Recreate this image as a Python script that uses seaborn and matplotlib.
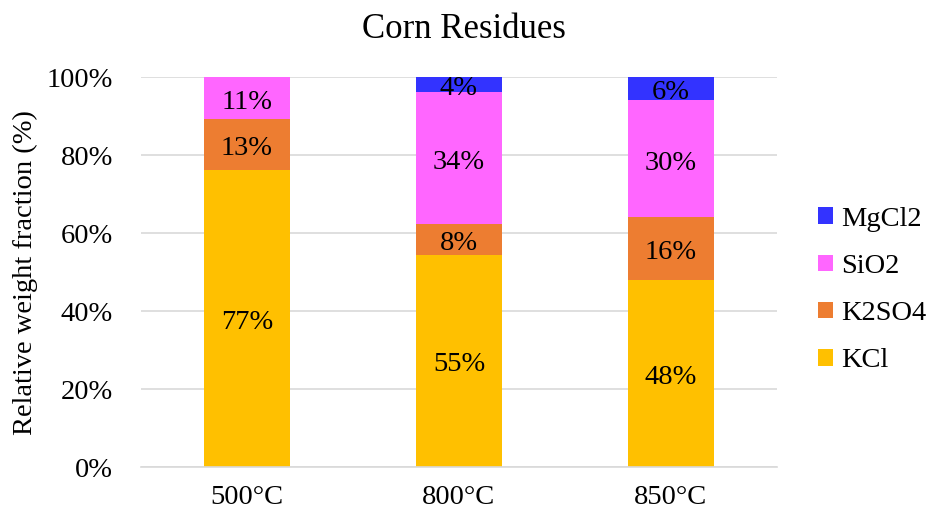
import numpy as np
import pandas as pd
import matplotlib
matplotlib.use("Agg")
import matplotlib.pyplot as plt
from matplotlib.patches import Patch
from matplotlib.ticker import FuncFormatter
import seaborn as sns

# Composition of corn-residue ash deposits by temperature (labelled percentages)
temperatures = ["500°C", "800°C", "850°C"]
components = ["KCl", "K2SO4", "SiO2", "MgCl2"]
kcl = [77, 55, 48]
k2so4 = [13, 8, 16]
sio2 = [11, 34, 30]
mgcl2 = [0, 4, 6]
colors = {"KCl": "#FFC000", "K2SO4": "#ED7D31", "SiO2": "#FF66FF", "MgCl2": "#3333FF"}

sns.set_style("white")
plt.rcParams["font.family"] = ["Liberation Serif", "DejaVu Serif"]
plt.rcParams["font.size"] = 20.5
plt.rcParams["text.color"] = "black"
plt.rcParams["xtick.color"] = "black"
plt.rcParams["ytick.color"] = "black"
plt.rcParams["xtick.labelcolor"] = "black"
plt.rcParams["ytick.labelcolor"] = "black"

values = np.array([kcl, k2so4, sio2, mgcl2], dtype=float)
# 100% stacked: each column normalised to its total
share = values / values.sum(axis=0) * 100
cum = np.cumsum(share, axis=0)

rows = []
for ci, comp in enumerate(components):
    for ti, t in enumerate(temperatures):
        rows.append({"temp": t, "component": comp, "raw": values[ci, ti],
                     "low": cum[ci, ti] - share[ci, ti], "top": cum[ci, ti]})
df = pd.DataFrame(rows)

fig = plt.figure(figsize=(9.33, 5.21), dpi=100)
ax = fig.add_axes([0.1511, 0.1036, 0.6817, 0.7486])

# Draw cumulative tops from the highest layer down so lower layers sit in front
for comp in components[::-1]:
    sub = df[df["component"] == comp]
    sns.barplot(data=sub, x="temp", y="top", order=temperatures, color=colors[comp],
                width=0.405, saturation=1, ax=ax, errorbar=None, linewidth=0)

for _, r in df.iterrows():
    if r["raw"] <= 0:
        continue
    xi = temperatures.index(r["temp"])
    ax.annotate(f"{int(r['raw'])}%", xy=(xi, (r["low"] + r["top"]) / 2),
                xytext=(0, -3), textcoords="offset points",
                ha="center", va="center", fontsize=20.5, color="black")

ax.set_xlim(-0.5, 2.5)
ax.set_ylim(0, 100)
ax.set_yticks(np.arange(0, 101, 20))
ax.yaxis.set_major_formatter(FuncFormatter(lambda v, _: f"{int(v)}%"))
ax.set_axisbelow(True)
ax.yaxis.grid(True, color="#D9D9D9", linewidth=1.2)
ax.xaxis.grid(False)
for s in ["top", "right", "left"]:
    ax.spines[s].set_visible(False)
ax.spines["bottom"].set_color("#D9D9D9")
ax.spines["bottom"].set_linewidth(1.2)
ax.tick_params(axis="y", length=0, pad=20)
ax.tick_params(axis="x", length=0, pad=13)
ax.set_xlabel("")
ax.set_ylabel("")

fig.text(25 / 933, 1 - 273 / 521, "Relative weight fraction (%)", rotation=90,
         ha="center", va="center", fontsize=20.5)
fig.text(464 / 933, 1 - 30 / 521, "Corn Residues", ha="center", va="center", fontsize=25)

handles = [Patch(facecolor=colors[c], edgecolor="none", label=c) for c in components[::-1]]
fig.legend(handles=handles, loc="center left", bbox_to_anchor=(818 / 933, 1 - 290 / 521),
           frameon=False, handlelength=0.52, handleheight=0.52, handletextpad=0.3,
           labelspacing=0.78, fontsize=20.5, borderaxespad=0, borderpad=0)

fig.savefig("out.png", dpi=100, facecolor="white")
